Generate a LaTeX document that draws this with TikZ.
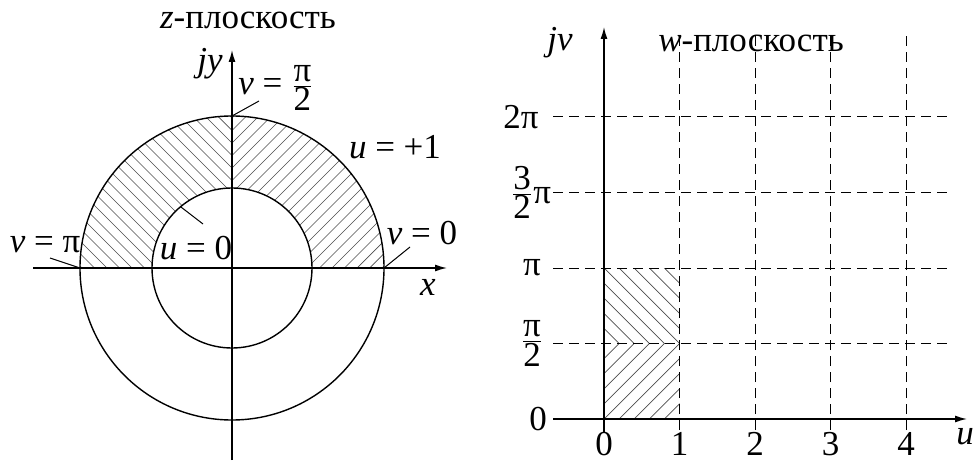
\documentclass[tikz,border=0pt]{standalone}
\usepackage{fontspec}
\setmainfont{Liberation Serif}
\usetikzlibrary{positioning, arrows.meta}
\newcommand{\fr}[2]{$\frac{\mbox{#1}}{\mbox{#2}}$}

\begin{document}
\begin{tikzpicture}[x=0.5pt, y=0.5pt,
    font=\fontsize{17.5}{20}\selectfont,
    axis/.style={line width=0.7pt, -{Latex[length=6pt, width=3.5pt]}},
    curve/.style={line width=0.7pt},
    hatch/.style={line width=0.35pt, black!70},
    gridline/.style={line width=0.5pt, dash pattern=on 5pt off 3pt},
    leader/.style={line width=0.5pt},
    lbl/.style={inner sep=1pt}
  ]
  \useasboundingbox (0,0) rectangle (974,461);

  % z-plane
  \begin{scope}[shift={(232,193)}]
    \begin{scope}
      \clip (80,0) -- (152,0) arc[start angle=0, end angle=90, radius=152]
            -- (0,80) arc[start angle=90, end angle=0, radius=80] -- cycle;
      \foreach \d in {-150,-137.5,...,150}
        \draw[hatch] (0,\d) -- ++(160,160);
    \end{scope}
    \begin{scope}
      \clip (-80,0) -- (-152,0) arc[start angle=180, end angle=90, radius=152]
            -- (0,80) arc[start angle=90, end angle=180, radius=80] -- cycle;
      \foreach \d in {-150,-137.5,...,150}
        \draw[hatch] (0,\d) -- ++(-160,160);
    \end{scope}

    \draw[curve] (0,0) circle[radius=152];
    \draw[curve] (0,0) circle[radius=80];
    \draw[axis] (-199,0) -- (215,0);
    \draw[axis] (0,-192) -- (0,218);

    \coordinate (ztop) at (90:152);
    \coordinate (zleft) at (180:152);
    \coordinate (zright) at (0:152);
    \coordinate (zin) at (130:80);

    \node[lbl] (ztitle) at (16,248) {\textit{z}-плоскость};
    \node[lbl] (jy) at (-22,204) {\textit{jy}};
    \node[lbl] (xl) at (196,-19) {\textit{x}};
    \node[lbl] (vhalf) at (44,180) {\textit{v} = \fr{π}{2}};
    \node[lbl] (uone) at (163,121) {\textit{u} = +1};
    \node[lbl] (uzero) at (-36,20) {\textit{u} = 0};
    \node[lbl] (vpi) at (-187,23) {\textit{v} = π};
    \node[lbl] (vzero) at (190,35) {\textit{v} = 0};

    \coordinate (lhalf) at (27,167);
    \coordinate (lzero) at (-29,44);
    \coordinate (lpi) at (-182,10);
    \coordinate (lvzero) at (178,21);
    \draw[leader] (ztop) -- (lhalf);
    \draw[leader] (zin) -- (lzero);
    \draw[leader] (zleft) -- (lpi);
    \draw[leader] (zright) -- (lvzero);
  \end{scope}

  % w-plane
  \begin{scope}[shift={(604,42)}]
    \def\s{75.5}
    \begin{scope}
      \clip (0,0) rectangle (\s,\s);
      \foreach \k in {-5,...,5}
        \draw[hatch] (\k*15.1,0) -- ++(100,100);
    \end{scope}
    \begin{scope}
      \clip (0,\s) rectangle (\s,2*\s);
      \foreach \k in {0,...,10}
        \draw[hatch] (\k*15.1,\s) -- ++(-100,100);
    \end{scope}

    \foreach \k in {1,...,4} {
      \draw[gridline] (\k*\s,-11) -- (\k*\s,386);
      \draw[gridline] (-51,\k*\s) -- (346,\k*\s);
      \node[lbl] (u\k) at (\k*\s,-25) {\k};
    }
    \draw[axis] (-51,0) -- (363,0);
    \draw[axis] (0,-14) -- (0,392);

    \node[lbl] (u0) at (0,-25) {0};
    \node[lbl] (v0) at (-66,0) {0};
    \node[lbl] (v1) at (-72,\s) {\fr{π}{2}};
    \node[lbl] (v2) at (-72,2*\s) {π};
    \node[lbl] (v3) at (-73,3*\s) {\fr{3}{2}π};
    \node[lbl] (v4) at (-83,4*\s) {2π};
    \node[lbl] (ul) at (361,-18) {\textit{u}};
    \node[lbl] (jv) at (-44,376) {\textit{jv}};
    \node[lbl] (wtitle) at (147,376) {\textit{w}-плоскость};
  \end{scope}
\end{tikzpicture}
\end{document}
